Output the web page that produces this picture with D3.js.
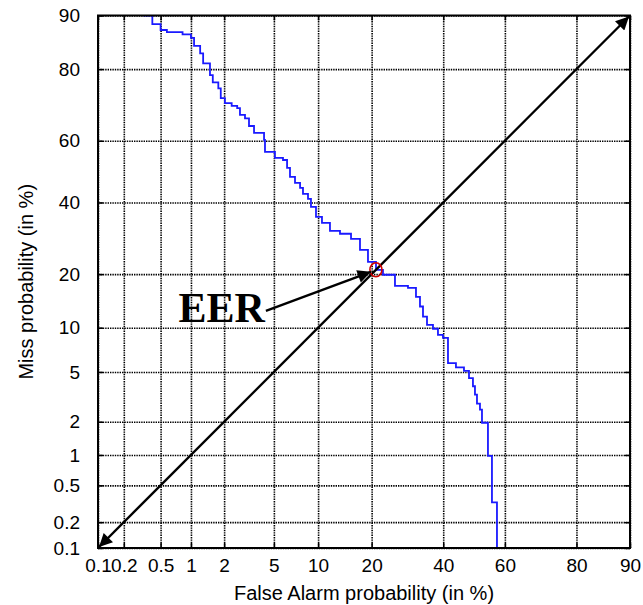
<!DOCTYPE html>
<html>
<head>
<meta charset="utf-8">
<script src="https://cdn.jsdelivr.net/npm/d3@7"></script>
<style>
  body { margin: 0; background: #fff; }
  svg { display: block; }
  text { font-family: "Liberation Sans", Arial, sans-serif; fill: #000; }
</style>
</head>
<body>
<div id="chart"></div>
<script>
// tick values (in %)
const xTicks = [0.1, 0.2, 0.5, 1, 2, 5, 10, 20, 40, 60, 80, 90];
const yTicks = [0.1, 0.2, 0.5, 1, 2, 5, 10, 20, 40, 60, 80, 90];

// DET curve corners (false alarm %, miss %), step after
const faRate = [0.33, 0.41, 0.50, 0.58, 0.83, 1.0, 1.07, 1.22, 1.30, 1.50, 1.59, 1.78, 1.87, 2.03,
  2.32, 2.58, 2.72, 2.99, 3.22, 3.53, 4.22, 4.29, 5.09, 5.82, 6.22, 6.52, 7.06, 7.64, 7.99, 8.62,
  9.01, 9.70, 10.57, 11.82, 13.53, 15.6, 17.43, 19.17, 21.02, 22.71, 25.79, 29.36, 31.66, 32.84,
  33.74, 34.95, 36.79, 38.34, 39.92, 41.52, 44.09, 46.7, 48.34, 49.64, 50.3, 50.96, 51.94, 52.6,
  54.55, 55.85, 57.47];
const missRate = [90, 88.7, 87.75, 87.4, 87.0, 86.4, 84.9, 83.4, 81.3, 78.6, 76.8, 75.3, 72.7, 71.3,
  70.5, 69.9, 67.9, 66.9, 64.6, 62.5, 60.3, 56.4, 54.5, 53.8, 51.2, 48.3, 46.3, 44.7, 42.75, 41.15,
  38.6, 35.5, 33.7, 31.3, 30.5, 29.05, 26.0, 22.95, 21.0, 19.85, 17.4, 17.0, 15.2, 13.4,
  11.7, 10.4, 9.85, 9.0, 8.6, 5.8, 5.4, 5.1, 4.5, 3.9, 3.35, 2.84, 2.53, 1.96,
  0.98, 0.33, 0.05];

const eer = 21.0;

const W = 643, H = 605;
const margin = {top: 15.5, right: 13, bottom: 57, left: 98};
const width = W - margin.left - margin.right,
      height = H - margin.top - margin.bottom;

// inverse normal CDF (Acklam)
function probit(p) {
    const a = [-3.969683028665376e+01, 2.209460984245205e+02, -2.759285104469687e+02, 1.383577518672690e+02, -3.066479806614716e+01, 2.506628277459239e+00];
    const b = [-5.447609879822406e+01, 1.615858368580409e+02, -1.556989798598866e+02, 6.680131188771972e+01, -1.328068155288572e+01];
    const c = [-7.784894002430293e-03, -3.223964580411365e-01, -2.400758277161838e+00, -2.549732539343734e+00, 4.374664141464968e+00, 2.938163982698783e+00];
    const d = [7.784695709041462e-03, 3.224671290700398e-01, 2.445134137142996e+00, 3.754408661907416e+00];
    const pl = 0.02425;
    let q, r;
    if (p < pl) {
        q = Math.sqrt(-2 * Math.log(p));
        return (((((c[0]*q+c[1])*q+c[2])*q+c[3])*q+c[4])*q+c[5]) / ((((d[0]*q+d[1])*q+d[2])*q+d[3])*q+1);
    } else if (p <= 1 - pl) {
        q = p - 0.5; r = q*q;
        return (((((a[0]*r+a[1])*r+a[2])*r+a[3])*r+a[4])*r+a[5])*q / (((((b[0]*r+b[1])*r+b[2])*r+b[3])*r+b[4])*r+1);
    } else {
        q = Math.sqrt(-2 * Math.log(1 - p));
        return -(((((c[0]*q+c[1])*q+c[2])*q+c[3])*q+c[4])*q+c[5]) / ((((d[0]*q+d[1])*q+d[2])*q+d[3])*q+1);
    }
}
const pz = v => probit(v / 100);

let xz = d3.scaleLinear().domain([pz(0.1), pz(90)]).range([0, width]);
let yz = d3.scaleLinear().domain([pz(0.1), pz(90)]).range([height, 0]);
const x = v => xz(pz(v)), y = v => yz(pz(v));

var svg = d3.select("#chart").append("svg")
    .attr("width", W)
    .attr("height", H)
    .append("g")
    .attr("transform", "translate(" + margin.left + "," + margin.top + ")");

svg.append("defs").append("clipPath").attr("id", "clip")
    .append("rect").attr("width", width).attr("height", height);

const mk = svg.select("defs").append("marker")
    .attr("id", "arrow")
    .attr("viewBox", "0 0 10 10")
    .attr("refX", 10).attr("refY", 5)
    .attr("markerWidth", 6.5).attr("markerHeight", 5.5)
    .attr("markerUnits", "strokeWidth")
    .attr("orient", "auto-start-reverse");
mk.append("path").attr("d", "M0,0 L10,5 L0,10 z").attr("fill", "#000");

// grid
const gridStyle = g => {
    g.select(".domain").remove();
    g.selectAll("line").attr("stroke", "#000").attr("stroke-width", 1.6).attr("stroke-dasharray", "1.4,1");
    g.selectAll("text").remove();
};
svg.append("g")
    .attr("transform", "translate(0," + height + ")")
    .call(d3.axisBottom(xz).tickValues(xTicks.map(pz)).tickSize(-height))
    .call(gridStyle);
svg.append("g")
    .call(d3.axisLeft(yz).tickValues(yTicks.map(pz)).tickSize(-width))
    .call(gridStyle);

// inner tick marks on all sides
const tickStyle = g => {
    g.select(".domain").remove();
    g.selectAll("line").attr("stroke", "#000").attr("stroke-width", 1.5);
    g.selectAll("text").remove();
};
svg.append("g").attr("transform", "translate(0," + height + ")")
    .call(d3.axisBottom(xz).tickValues(xTicks.map(pz)).tickSize(-5)).call(tickStyle);
svg.append("g")
    .call(d3.axisTop(xz).tickValues(xTicks.map(pz)).tickSize(-5)).call(tickStyle);
svg.append("g")
    .call(d3.axisLeft(yz).tickValues(yTicks.map(pz)).tickSize(-5)).call(tickStyle);
svg.append("g").attr("transform", "translate(" + width + ",0)")
    .call(d3.axisRight(yz).tickValues(yTicks.map(pz)).tickSize(-5)).call(tickStyle);

// tick labels
svg.append("g")
    .attr("transform", "translate(0," + height + ")")
    .call(d3.axisBottom(xz).tickValues(xTicks.map(pz)).tickSize(0).tickPadding(11)
        .tickFormat((d, i) => xTicks[i]))
    .call(g => g.select(".domain").remove())
    .selectAll("text").attr("font-size", 19).attr("font-family", "Liberation Sans, Arial, sans-serif").attr("fill", "#000");
svg.append("g")
    .call(d3.axisLeft(yz).tickValues(yTicks.map(pz)).tickSize(0).tickPadding(18)
        .tickFormat((d, i) => yTicks[i]))
    .call(g => g.select(".domain").remove())
    .selectAll("text").attr("font-size", 19).attr("font-family", "Liberation Sans, Arial, sans-serif").attr("fill", "#000");

// DET curve
const det = faRate.map((d, i) => [d, missRate[i]]);
svg.append("path")
    .datum(det)
    .attr("clip-path", "url(#clip)")
    .attr("fill", "none")
    .attr("stroke", "#1a1aff")
    .attr("stroke-width", 1.8)
    .attr("d", d3.line().x(d => x(d[0])).y(d => y(d[1])).curve(d3.curveStepAfter));

// frame
svg.append("rect")
    .attr("width", width).attr("height", height)
    .attr("fill", "none").attr("stroke", "#000").attr("stroke-width", 2);

// diagonal with arrows both ends
svg.append("line")
    .attr("x1", x(0.1) + 1).attr("y1", y(0.1) - 1)
    .attr("x2", x(90) - 1).attr("y2", y(90) + 1)
    .attr("stroke", "#000").attr("stroke-width", 2.4)
    .attr("marker-start", "url(#arrow)")
    .attr("marker-end", "url(#arrow)");

// EER marker
svg.append("ellipse")
    .attr("cx", x(eer)).attr("cy", y(eer))
    .attr("rx", 6).attr("ry", 7)
    .attr("fill", "none").attr("stroke", "#d00000").attr("stroke-width", 1.6);

// EER annotation
svg.append("line")
    .attr("x1", x(eer) - 110).attr("y1", y(eer) + 41)
    .attr("x2", x(eer) - 5).attr("y2", y(eer) + 2)
    .attr("stroke", "#000").attr("stroke-width", 2.4)
    .attr("marker-end", "url(#arrow)");
svg.append("text")
    .attr("x", x(eer) - 111).attr("y", y(eer) + 52)
    .attr("text-anchor", "end")
    .style("font-family", "'Liberation Serif', 'Times New Roman', serif")
    .style("font-weight", "bold")
    .style("font-size", "42px")
    .text("EER");

// axis titles
svg.append("text")
    .attr("x", width / 2).attr("y", H - margin.top - 5)
    .attr("text-anchor", "middle")
    .attr("font-size", 20)
    .text("False Alarm probability (in %)");
svg.append("text")
    .attr("transform", "translate(" + (33 - margin.left) + "," + (height / 2) + ") rotate(-90)")
    .attr("text-anchor", "middle")
    .attr("font-size", 20)
    .text("Miss probability (in %)");
</script>
</body>
</html>
